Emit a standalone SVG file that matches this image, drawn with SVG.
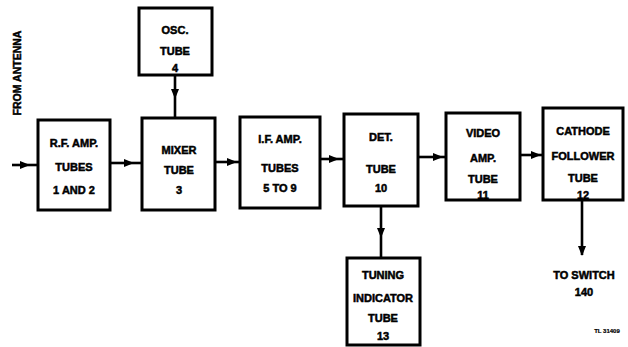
<svg xmlns="http://www.w3.org/2000/svg" width="628" height="347" viewBox="0 0 628 347">
<defs>
<marker id="ah" viewBox="0 0 10 8" refX="9" refY="4" markerWidth="10" markerHeight="8" markerUnits="userSpaceOnUse" orient="auto">
<path d="M0,0 L10,4 L0,8 Z" fill="#000"/>
</marker>
</defs>
<style>
.box{fill:#fff;stroke:#000;stroke-width:3}
.t{font-family:"Liberation Sans",Arial,sans-serif;font-weight:bold;font-size:11px;text-anchor:middle;fill:#000;stroke:#000;stroke-width:0.5}
.c{fill:none;stroke:#000;stroke-width:2.6}
</style>
<rect width="628" height="347" fill="#fff"/>
<text class="t" transform="translate(21,73) rotate(-90)" style="font-size:10.5px">FROM ANTENNA</text>
<g id="rf">
<rect class="box" x="38" y="120" width="72" height="90"/>
<text class="t" x="74" y="147">R.F. AMP.</text>
<text class="t" x="74" y="171">TUBES</text>
<text class="t" x="74" y="194">1 AND 2</text>
</g>
<g id="osc">
<rect class="box" x="139" y="8" width="73" height="67"/>
<text class="t" x="175" y="34">OSC.</text>
<text class="t" x="175" y="55">TUBE</text>
<text class="t" x="175" y="72">4</text>
</g>
<g id="mixer">
<rect class="box" x="142" y="118" width="73" height="92"/>
<text class="t" x="179" y="154">MIXER</text>
<text class="t" x="179" y="174">TUBE</text>
<text class="t" x="179" y="194">3</text>
</g>
<g id="if">
<rect class="box" x="240" y="117" width="80" height="91"/>
<text class="t" x="280" y="143">I.F. AMP.</text>
<text class="t" x="280" y="172">TUBES</text>
<text class="t" x="280" y="192">5 TO 9</text>
</g>
<g id="det">
<rect class="box" x="344" y="114" width="74" height="92"/>
<text class="t" x="381" y="141">DET.</text>
<text class="t" x="381" y="173">TUBE</text>
<text class="t" x="381" y="192">10</text>
</g>
<g id="video">
<rect class="box" x="446" y="113" width="74" height="87"/>
<text class="t" x="483" y="137">VIDEO</text>
<text class="t" x="483" y="162">AMP.</text>
<text class="t" x="483" y="183">TUBE</text>
<text class="t" x="483" y="199">11</text>
</g>
<g id="cathode">
<rect class="box" x="543" y="108" width="80" height="92"/>
<text class="t" x="583" y="135">CATHODE</text>
<text class="t" x="583" y="160">FOLLOWER</text>
<text class="t" x="583" y="182">TUBE</text>
<text class="t" x="583" y="199">12</text>
</g>
<g id="tuning">
<rect class="box" x="347" y="258" width="73" height="87"/>
<text class="t" x="383" y="279">TUNING</text>
<text class="t" x="383" y="302">INDICATOR</text>
<text class="t" x="383" y="322">TUBE</text>
<text class="t" x="383" y="340">13</text>
</g>
<g id="out">
<text class="t" x="584" y="279">TO SWITCH</text>
<text class="t" x="584" y="296">140</text>
</g>
<text class="t" x="607" y="333" style="font-size:6px;stroke-width:0.2">TL 31409</text>
<g id="connectors">
<path class="c" d="M12,165 L29,165 L38,165" marker-mid="url(#ah)"/>
<path class="c" d="M110,163 L133,163 L142,163" marker-mid="url(#ah)"/>
<path class="c" d="M175,75 L175,98 L175,118" marker-mid="url(#ah)"/>
<path class="c" d="M215,162 L236,162 L240,162" marker-mid="url(#ah)"/>
<path class="c" d="M320,159 L338,159 L344,159" marker-mid="url(#ah)"/>
<path class="c" d="M418,157 L442,157 L446,157" marker-mid="url(#ah)"/>
<path class="c" d="M520,155 L540,155 L543,155" marker-mid="url(#ah)"/>
<path class="c" d="M381,206 L381,237 L381,258" marker-mid="url(#ah)"/>
<path class="c" d="M582,200 L582,255" marker-end="url(#ah)"/>
</g>
</svg>
